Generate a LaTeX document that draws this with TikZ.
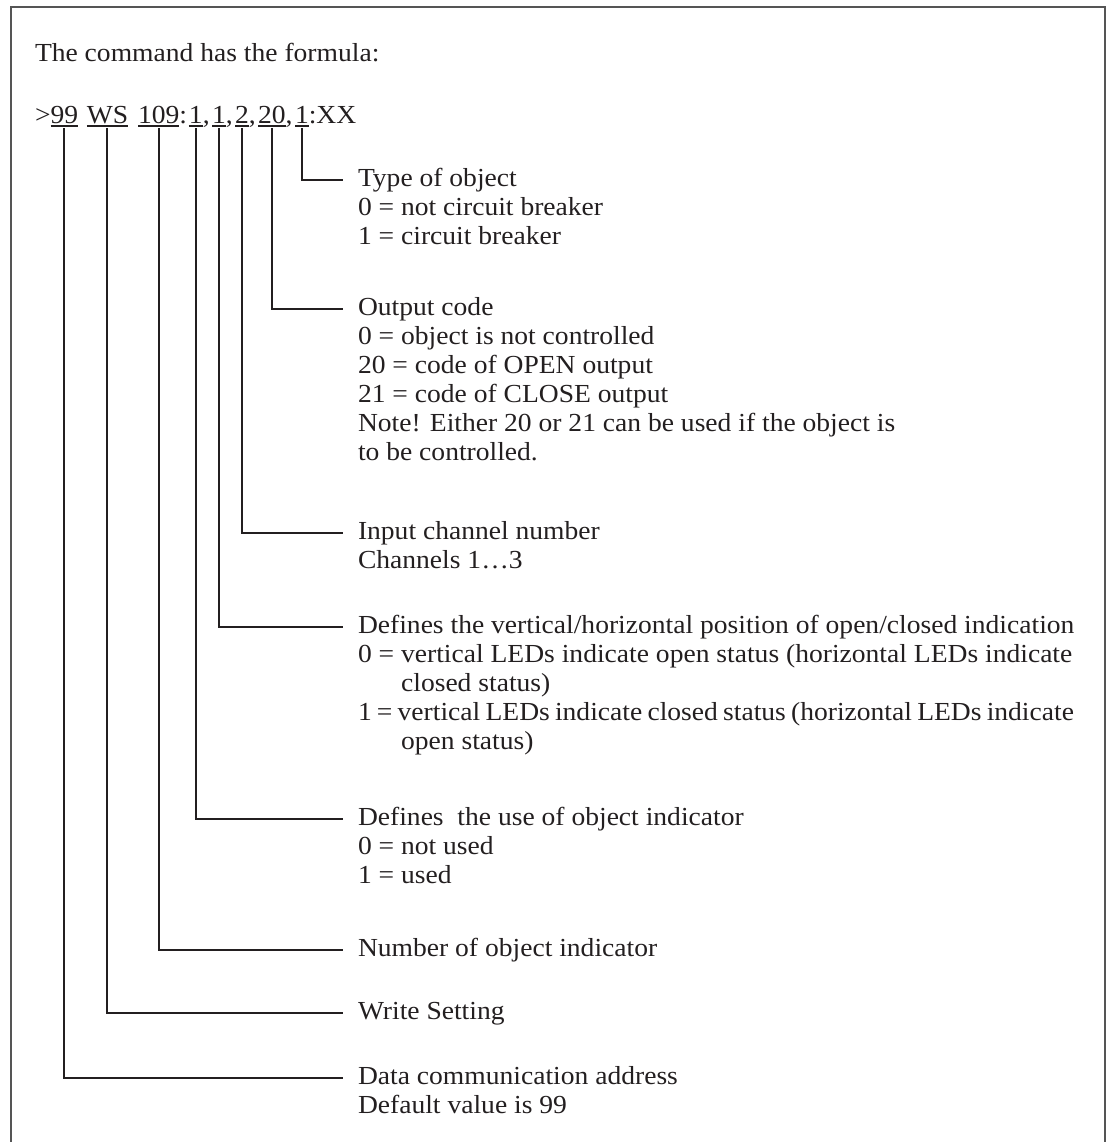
\documentclass[tikz,border=0pt]{standalone}
\usepackage{fontspec}
\setmainfont{Liberation Serif}[FakeStretch=1.06]
\usetikzlibrary{calc}
\definecolor{ink}{HTML}{231F20}
\definecolor{framegray}{HTML}{555555}
\begin{document}
\begin{tikzpicture}[x=0.75pt,y=-0.75pt,
  txt/.style={inner sep=0pt, outer sep=0pt, text=ink,
              font=\fontsize{19.5pt}{21.75pt}\selectfont},
  fml/.style={txt, anchor=base west},
  lbl/.style={txt, anchor=north west, align=left},
  lead/.style={draw=ink, line width=1.5pt},
  uline/.style={draw=ink, line width=1.1pt},
  frame/.style={draw=framegray, line width=1.5pt}]
\useasboundingbox (0,0) rectangle (1112,1142);

% open frame (runs off the bottom of the page)
\draw[frame] (11,1160) -- (11,7) -- (1105,7) -- (1105,1160);

\node[fml] (head) at (35,61) {The command has the formula:};

% the command string, one node per piece
\node[fml] (gt)   at (35,123)         {>};
\node[fml] (a99)  at (gt.base east)   {99};
\node[fml] (sp1)  at (a99.base east)  {\hspace*{6.5pt}};
\node[fml] (aWS)  at (sp1.base east)  {WS};
\node[fml] (sp2)  at (aWS.base east)  {\hspace*{7.5pt}};
\node[fml] (a109) at (sp2.base east)  {109};
\node[fml] (c1)   at (a109.base east) {:\hspace*{1.4pt}};
\node[fml] (a1)   at (c1.base east)   {1};
\node[fml] (m1)   at (a1.base east)   {,\hspace*{1.8pt}};
\node[fml] (a2)   at (m1.base east)   {1};
\node[fml] (m2)   at (a2.base east)   {,\hspace*{1.8pt}};
\node[fml] (a3)   at (m2.base east)   {2};
\node[fml] (m3)   at (a3.base east)   {,\hspace*{1.8pt}};
\node[fml] (a4)   at (m3.base east)   {20};
\node[fml] (m4)   at (a4.base east)   {,\hspace*{1.8pt}};
\node[fml] (a5)   at (m4.base east)   {1};
\node[fml] (tail) at (a5.base east)   {:XX};

\foreach \n in {a99,aWS,a109,a1,a2,a3,a4,a5}
  \draw[uline] ([yshift=-2.4pt]\n.base west) -- ([yshift=-2.4pt]\n.base east);

% explanations
\node[lbl] (t1) at (358,165.7) {\strut Type of object\\
  0 = not circuit breaker\\
  1 = circuit breaker};
\node[lbl] (t2) at (358,294.7) {\strut Output code\\
  0 = object is not controlled\\
  20 = code of OPEN output\\
  21 = code of CLOSE output\\
  Note! Either 20 or 21 can be used if the object is\\
  to be controlled.};
\node[lbl] (t3) at (358,518.7) {\strut Input channel number\\
  Channels 1…3};
\node[lbl] (t4) at (358,612.7) {\strut Defines the vertical/horizontal position of open/closed indication\\
  0 = vertical LEDs indicate open status (horizontal LEDs indicate\\
  \hphantom{0 =\ }closed status)\\
  {\spaceskip=0.2em plus 0.1em\relax 1 = vertical LEDs indicate closed status (horizontal LEDs indicate}\\
  \hphantom{0 =\ }open status)};
\node[lbl] (t5) at (358,804.7) {\strut Defines~~the use of object indicator\\
  0 = not used\\
  1 = used};
\node[lbl] (t6) at (358,935.7) {\strut Number of object indicator};
\node[lbl] (t7) at (358,998.7) {\strut Write Setting};
\node[lbl] (t8) at (358,1063.7) {\strut Data communication address\\
  Default value is 99};

% leader ends, just left of each explanation
\foreach \i in {1,...,8}
  \coordinate (e\i) at ($(t\i.north west)+(-15,14.3)$);

% leaders from each underlined field to its explanation
\draw[lead] ([yshift=-3.8pt]a5.base)   |- (e1);
\draw[lead] ([yshift=-3.8pt]a4.base)   |- (e2);
\draw[lead] ([yshift=-3.8pt]a3.base)   |- (e3);
\draw[lead] ([yshift=-3.8pt]a2.base)   |- (e4);
\draw[lead] ([yshift=-3.8pt]a1.base)   |- (e5);
\draw[lead] ([yshift=-3.8pt]a109.base) |- (e6);
\draw[lead] ([yshift=-3.8pt]aWS.base)  |- (e7);
\draw[lead] ([yshift=-3.8pt]a99.base)  |- (e8);
\end{tikzpicture}
\end{document}
